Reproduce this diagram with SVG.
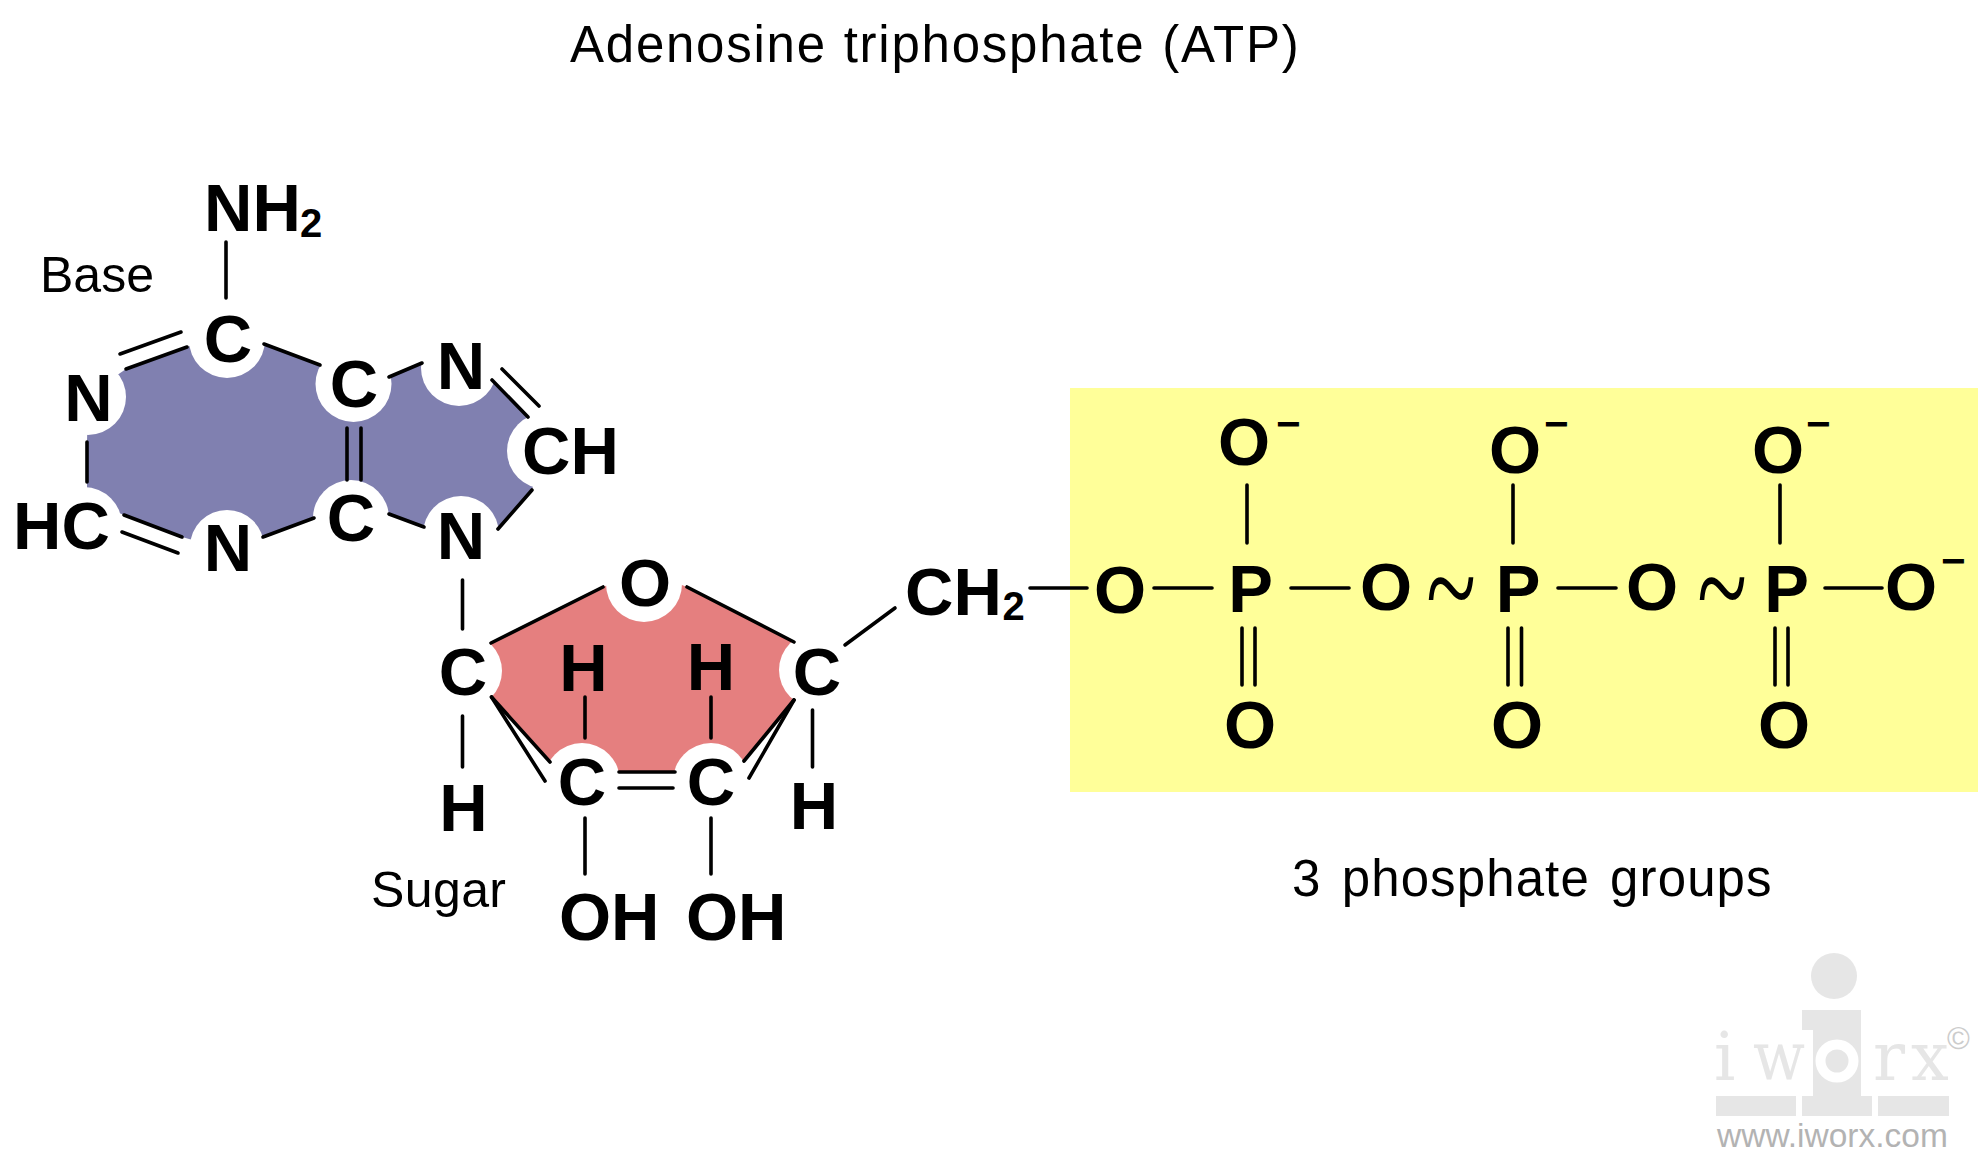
<svg xmlns="http://www.w3.org/2000/svg" width="1988" height="1168" viewBox="0 0 1988 1168">
<style>
text{font-family:"Liberation Sans",Arial,sans-serif;fill:#000}
.a{font-size:67px;font-weight:700;text-anchor:middle}
.s{font-size:67px;font-weight:700}
.u{font-size:40px;font-weight:700}
.m{font-size:42px;font-weight:700}
.l{font-size:51px}
.t{font-family:"Liberation Serif",serif;font-size:92px;font-style:italic}
.h{fill:#fff}
.w{font-family:"DejaVu Serif",serif;font-size:67px;fill:#e6e6e6}
#connectors line{stroke:#000;stroke-width:3.6;stroke-linecap:round}
#logo .g{fill:#e6e6e6}
</style>
<rect width="1988" height="1168" fill="#fff"/>
<g id="regions">
<rect id="phosphate-box" x="1070" y="388" width="908" height="404" fill="#ffff99"/>
<path id="base-fill" fill="#8080b0" d="M88 400L110 380L126 369L187 347L228 332L264 344L320 365L354 382L389 377L422 363L459 347L492 380L528 417L545 440L532 490L498 529L461 540L424 527L389 514L351 505L314 518L263 537L228 550L182 537L124 515L87 500L87 442Z"/>
<path id="sugar-fill" fill="#e57f7f" d="M464 671L491 643L603 587L644 570L687 587L794 642L817 670L794 700L744 761L711 772L582 772L550 762L491 697Z"/>
</g>
<g id="node-nh2"><text class="s" x="204" y="231">NH</text><text class="u" x="300" y="237">2</text></g>
<g id="node-c1"><circle class="h" cx="227" cy="340" r="38"/><text class="a" x="228" y="362">C</text></g>
<g id="node-n1"><circle class="h" cx="88" cy="397" r="38"/><text class="a" x="88.500" y="421">N</text></g>
<g id="node-hc"><circle class="h" cx="84" cy="525" r="38"/><text class="s" x="13" y="549">HC</text></g>
<g id="node-n2"><circle class="h" cx="227" cy="547" r="37"/><text class="a" x="228" y="571">N</text></g>
<g id="node-c2"><circle class="h" cx="351" cy="518" r="38"/><text class="a" x="351" y="541">C</text></g>
<g id="node-c3"><circle class="h" cx="353.500" cy="384" r="38"/><text class="a" x="354" y="407">C</text></g>
<g id="node-n3"><circle class="h" cx="459" cy="368" r="38"/><text class="a" x="461" y="389">N</text></g>
<g id="node-ch"><circle class="h" cx="545" cy="451" r="38"/><text class="s" x="522" y="474">CH</text></g>
<g id="node-n4"><circle class="h" cx="461" cy="534" r="38"/><text class="a" x="461" y="559">N</text></g>
<g id="node-o-ring"><circle class="h" cx="644" cy="584" r="38"/><text class="a" x="645" y="606">O</text></g>
<g id="node-c4"><circle class="h" cx="464" cy="671" r="38"/><text class="a" x="463" y="695">C</text></g>
<g id="node-c5"><circle class="h" cx="817" cy="670" r="38"/><text class="a" x="817" y="695">C</text></g>
<g id="node-c6"><circle class="h" cx="582" cy="781" r="38"/><text class="a" x="582" y="805">C</text></g>
<g id="node-c7"><circle class="h" cx="711" cy="781" r="38"/><text class="a" x="711" y="805">C</text></g>
<g id="node-h1"><text class="a" x="583.500" y="691">H</text></g>
<g id="node-h2"><text class="a" x="711" y="690">H</text></g>
<g id="node-h3"><text class="a" x="463.500" y="831">H</text></g>
<g id="node-h4"><text class="a" x="814" y="829">H</text></g>
<g id="node-oh1"><text class="s" x="559" y="940">OH</text></g>
<g id="node-oh2"><text class="s" x="686" y="940">OH</text></g>
<g id="node-ch2"><text class="s" x="905" y="615">CH</text><text class="u" x="1002.500" y="620">2</text></g>
<g id="node-o1"><text class="a" x="1120" y="613">O</text></g>
<g id="node-p1"><text class="a" x="1250.500" y="612">P</text></g>
<g id="node-o2"><text class="a" x="1386" y="610">O</text></g>
<g id="node-tilde1"><text class="t" transform="translate(1425 633) scale(1 1.45)" x="0" y="0">~</text></g>
<g id="node-p2"><text class="a" x="1518" y="612">P</text></g>
<g id="node-o3"><text class="a" x="1652" y="610">O</text></g>
<g id="node-tilde2"><text class="t" transform="translate(1696 633) scale(1 1.45)" x="0" y="0">~</text></g>
<g id="node-p3"><text class="a" x="1786.500" y="612">P</text></g>
<g id="node-o4"><text class="a" x="1911" y="610">O</text><text class="m" x="1941" y="575">−</text></g>
<g id="node-o5"><text class="a" x="1244" y="465">O</text><text class="m" x="1276" y="438">−</text></g>
<g id="node-o6"><text class="a" x="1515" y="473">O</text><text class="m" x="1544" y="438">−</text></g>
<g id="node-o7"><text class="a" x="1778" y="473">O</text><text class="m" x="1806" y="438">−</text></g>
<g id="node-o8"><text class="a" x="1250" y="748">O</text></g>
<g id="node-o9"><text class="a" x="1517" y="748">O</text></g>
<g id="node-o10"><text class="a" x="1784" y="748">O</text></g>
<g id="connectors">
<line x1="226" y1="242" x2="226" y2="298"/>
<line x1="120" y1="354" x2="181" y2="332"/>
<line x1="126" y1="369" x2="187" y2="347"/>
<line x1="264" y1="344" x2="320" y2="365"/>
<line x1="389" y1="377" x2="422" y2="363"/>
<line x1="492" y1="380" x2="528" y2="417"/>
<line x1="502" y1="369" x2="539" y2="406"/>
<line x1="532" y1="490" x2="498" y2="529"/>
<line x1="424" y1="527" x2="389" y2="514"/>
<line x1="314" y1="518" x2="263" y2="537"/>
<line x1="182" y1="537" x2="124" y2="515"/>
<line x1="178" y1="553" x2="122" y2="532"/>
<line x1="87" y1="442" x2="87" y2="482"/>
<line x1="347" y1="428" x2="347" y2="480"/>
<line x1="361" y1="428" x2="361" y2="480"/>
<line x1="462.500" y1="580" x2="462.500" y2="629"/>
<line x1="491" y1="643" x2="603" y2="587"/>
<line x1="687" y1="587" x2="794" y2="642"/>
<line x1="491.500" y1="697" x2="550" y2="762"/>
<line x1="491.500" y1="697" x2="545" y2="781"/>
<line x1="794" y1="700" x2="744" y2="761"/>
<line x1="794" y1="700" x2="749" y2="778"/>
<line x1="619" y1="772" x2="675" y2="772"/>
<line x1="619" y1="788" x2="673" y2="788"/>
<line x1="585" y1="697" x2="585" y2="738"/>
<line x1="711" y1="697" x2="711" y2="738"/>
<line x1="585" y1="818" x2="585" y2="874"/>
<line x1="711" y1="818" x2="711" y2="874"/>
<line x1="462.500" y1="716" x2="462.500" y2="767"/>
<line x1="812.500" y1="710" x2="812.500" y2="767"/>
<line x1="845" y1="645" x2="895" y2="608"/>
<line x1="1030" y1="588" x2="1087" y2="588"/>
<line x1="1154" y1="588" x2="1212" y2="588"/>
<line x1="1291" y1="588" x2="1349" y2="588"/>
<line x1="1558" y1="588" x2="1616" y2="588"/>
<line x1="1825" y1="588" x2="1882" y2="588"/>
<line x1="1247" y1="485" x2="1247" y2="543"/>
<line x1="1513" y1="485" x2="1513" y2="543"/>
<line x1="1780" y1="485" x2="1780" y2="543"/>
<line x1="1242" y1="628" x2="1242" y2="685"/>
<line x1="1255" y1="628" x2="1255" y2="685"/>
<line x1="1508" y1="628" x2="1508" y2="685"/>
<line x1="1521.500" y1="628" x2="1521.500" y2="685"/>
<line x1="1775" y1="628" x2="1775" y2="685"/>
<line x1="1788" y1="628" x2="1788" y2="685"/>
</g>
<g id="labels">
<text class="l" x="570" y="62" style="letter-spacing:1.75px;word-spacing:1px">Adenosine triphosphate (ATP)</text>
<text class="l" x="40" y="292" style="font-size:50px">Base</text>
<text class="l" x="371" y="907" style="font-size:50px;letter-spacing:.4px">Sugar</text>
<text class="l" x="1292" y="896" style="letter-spacing:1.1px;word-spacing:5px">3 phosphate groups</text>
</g>
<g id="logo">
<circle class="g" cx="1834" cy="976" r="23"/>
<path class="g" d="M1802 1010H1861V1096H1813V1030H1802Z"/>
<circle cx="1837" cy="1061" r="16.500" fill="none" stroke="#fff" stroke-width="10"/>
<rect class="g" x="1716" y="1096" width="80" height="20"/>
<rect class="g" x="1802" y="1096" width="70" height="20"/>
<rect class="g" x="1878" y="1096" width="71" height="20"/>
<text class="w" x="1714" y="1080">i</text>
<text class="w" x="1753" y="1080" textLength="52" lengthAdjust="spacingAndGlyphs">w</text>
<text class="w" x="1873" y="1080">r</text>
<text class="w" x="1911" y="1080">x</text>
<text x="1947" y="1049" style="font-size:31px;fill:#ccc">©</text>
<text x="1717" y="1147" style="font-size:33.500px;fill:#b3b3b3">www.iworx.com</text>
</g>
</svg>
